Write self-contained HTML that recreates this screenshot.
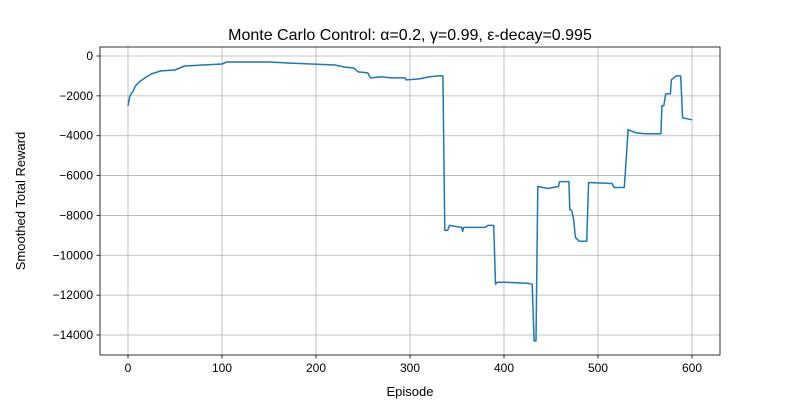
<!DOCTYPE html>
<html><head><meta charset="utf-8"><style>
body{margin:0;background:#fff}
svg text{font-family:"Liberation Sans","DejaVu Sans",sans-serif;fill:#000}
</style></head><body>
<svg id="c" width="800" height="400"></svg>
<script>
const episodes=[0,2,5,8,12,18,25,35,50,60,80,100,105,150,170,195,220,230,240,245,255,258,270,280,295,296,310,320,330,335,337,340,342,348,355,356,357,380,383,389,391,393,400,425,430,432,434,436,447,452,458,459,469,470,472,474,476,480,488,490,515,517,528,532,540,550,567,568,570,572,577,578,583,588,590,600];
const rewards=[-2500,-2000,-1800,-1500,-1300,-1100,-900,-750,-700,-500,-450,-400,-300,-300,-350,-400,-450,-550,-600,-800,-850,-1100,-1050,-1100,-1100,-1200,-1150,-1050,-1000,-1000,-8750,-8750,-8500,-8550,-8600,-8800,-8600,-8600,-8500,-8500,-11450,-11350,-11350,-11400,-11450,-14300,-14300,-6550,-6650,-6600,-6550,-6300,-6300,-7700,-7750,-8200,-9100,-9300,-9300,-6350,-6400,-6600,-6600,-3700,-3850,-3900,-3900,-2500,-2500,-1900,-1900,-1200,-1000,-1000,-3100,-3200];
const xTicks=[0,100,200,300,400,500,600];
const yTicks=[0,-2000,-4000,-6000,-8000,-10000,-12000,-14000];
const L=100,R=720,T=47,B=355;
const X=v=>128+v*(692-128)/600;
const Y=v=>56+(-v)*(335-56)/14000;
const svg=document.getElementById('c');
const NS='http://www.w3.org/2000/svg';
function mk(t,a,p){const e=document.createElementNS(NS,t);for(const k in a)e.setAttribute(k,a[k]);(p||svg).appendChild(e);return e;}
xTicks.forEach(t=>{
 const g=mk('line',{x1:X(t),x2:X(t),y1:T,y2:B,stroke:'#b0b0b0','stroke-width':0.8});
 
 
 mk('line',{x1:X(t),x2:X(t),y1:B,y2:B+3.5,stroke:'#000','stroke-width':0.8});
 const tx=mk('text',{x:X(t),y:B+17,'text-anchor':'middle','font-size':12});tx.textContent=t;
 
 
});
yTicks.forEach(t=>{
 const g=mk('line',{x1:L,x2:R,y1:Y(t),y2:Y(t),stroke:'#b0b0b0','stroke-width':0.8});
 
 
 mk('line',{x1:L-3.5,x2:L,y1:Y(t),y2:Y(t),stroke:'#000','stroke-width':0.8});
 const tx=mk('text',{x:L-7,y:Y(t)+4,'text-anchor':'end','font-size':12});tx.textContent=t<0?'\u2212'+(-t):t;
 
 
});
const pts=episodes.map((e,i)=>X(e).toFixed(1)+','+Y(rewards[i]).toFixed(1)).join(' ');
const line=mk('polyline',{points:pts,fill:'none',stroke:'#1f77b4','stroke-width':1.5,'stroke-linejoin':'round'});


const fr=mk('rect',{x:L,y:T,width:R-L,height:B-T,fill:'none',stroke:'#000','stroke-width':0.8});


const ti=mk('text',{x:410,y:40,'text-anchor':'middle','font-size':16});ti.textContent='Monte Carlo Control: α=0.2, γ=0.99, ε-decay=0.995';


const xl=mk('text',{x:410,y:396,'text-anchor':'middle','font-size':13});xl.textContent='Episode';


const yl=mk('text',{x:0,y:0,'text-anchor':'middle','font-size':13,transform:'translate(25,201) rotate(-90)'});yl.textContent='Smoothed Total Reward';


</script>
</body></html>
